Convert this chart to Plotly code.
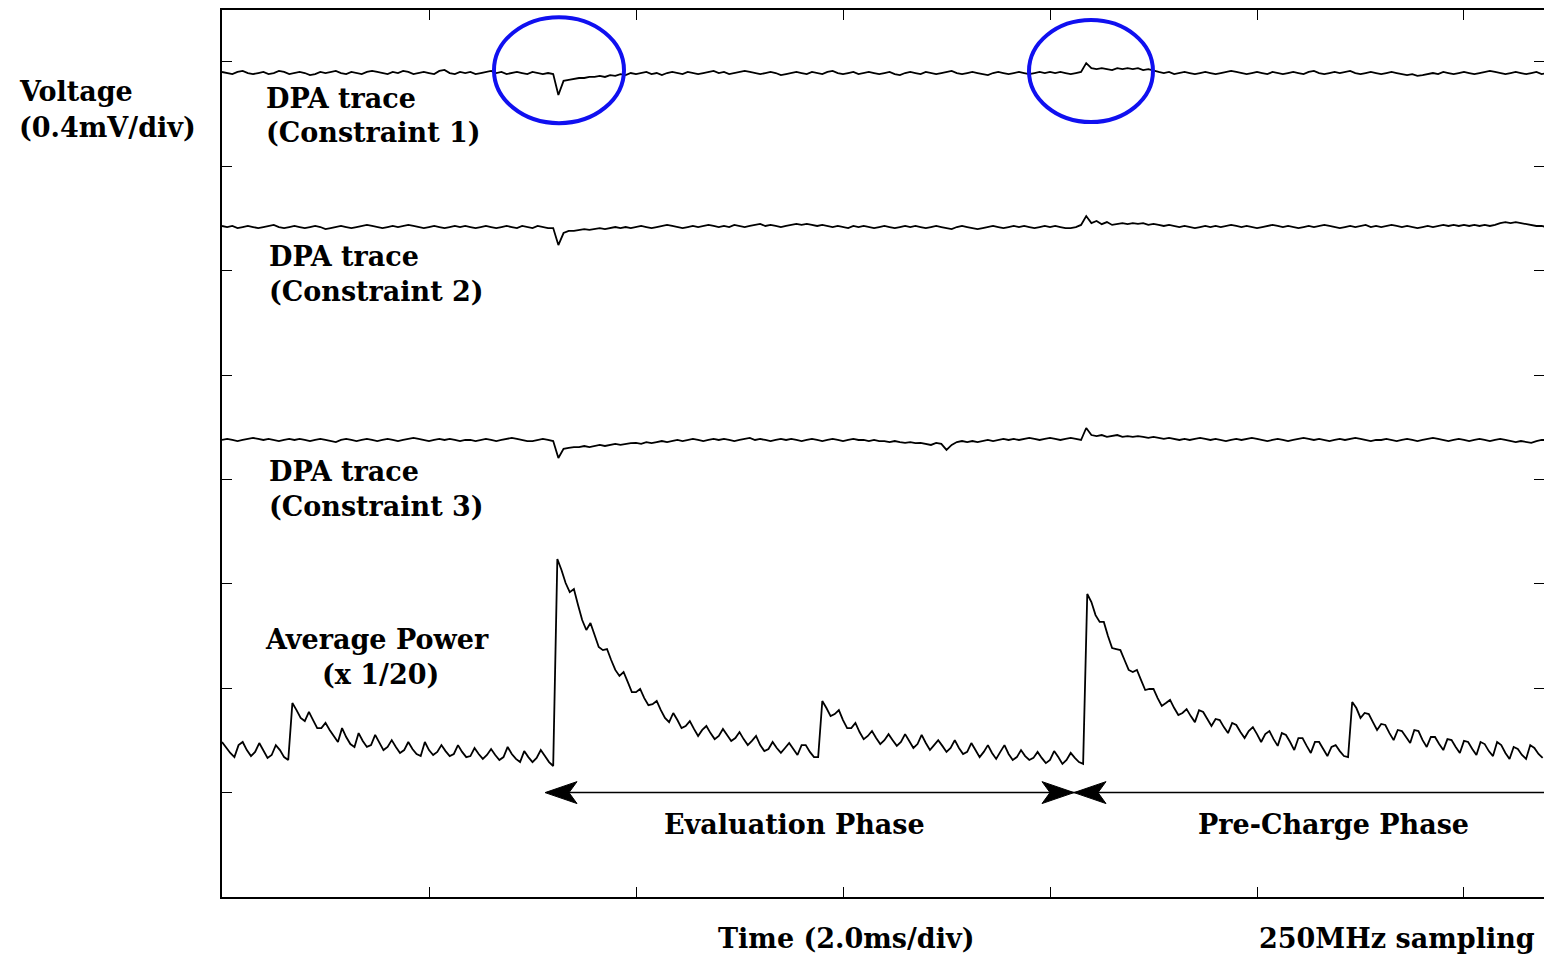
import numpy as np
import plotly.graph_objects as go

# ---------------- data ----------------
# time bases: DPA traces sampled every 0.05 ms, average power every 0.04 ms
DPA_STEP_MS = 0.05
PWR_STEP_MS = 0.04

# DC level of each DPA trace on screen (uV) and its deviation (uV)
dpa1_offset_uv = 3157
dpa2_offset_uv = 2567
dpa3_offset_uv = 1751

dpa1_uv = [
    4, 0, -4, 4, 8, 0, -4, 0, 4, -4, 0, 8, 4, -4, 0, 4,
    0, -8, -4, 4, 0, 4, 8, 0, -4, 4, 0, -4, 4, 8, 4, 0,
    -4, 4, 0, 8, 4, -4, 0, 4, 0, -4, 8, 12, 0, -4, 4, 0,
    4, -4, 0, 4, 8, 0, 4, -4, 0, 4, 0, -4, 4, 0, -4, 0,
    -4, -84, -30, -26, -22, -19, -19, -15, -15, -11, -15, -8, -11, -4, -8, 0,
    -4, 0, 4, -4, 0, -8, 0, 4, 0, -4, 4, 0, -4, 0, 4, 8,
    0, 4, -4, 0, 4, 8, 4, 0, -4, 0, 4, 0, -8, -4, 0, 4,
    0, -4, 4, 0, -4, 4, 8, 0, -4, 0, 4, -4, 0, 4, 0, -4,
    0, 4, -4, -8, 0, 4, 0, -4, 4, 0, -4, 0, 4, 8, 0, -4,
    0, 4, 0, -4, -8, 0, 4, 0, -4, 0, 4, 0, -4, 0, 4, 0,
    4, 0, 4, 0, -4, 0, 4, 38, 19, 15, 19, 15, 11, 19, 15, 19,
    15, 19, 11, 15, 8, 4, 0, 4, -4, 0, 4, 0, -4, 0, 4, 0,
    -4, 0, 4, 8, 4, 0, -4, 0, 4, 0, -4, 4, 0, -4, 0, 4,
    0, -4, 4, 8, 0, -4, 0, 4, 0, 4, 8, 0, -4, 0, 4, 0,
    -4, 0, 4, 0, -4, -8, -4, -11, -8, -4, 0, -4, 4, 0, -4, 0,
    4, 0, -4, 0, 4, 8, 4, 0, -4, 0, 4, 0, -4, 0, 4, -4,
    0,
]

dpa2_uv = [
    4, 0, 4, -4, 0, 4, 0, -4, 0, 4, 8, 0, -4, 0, 4, 0,
    -4, 0, 4, 0, -8, -4, 0, 4, 0, -4, 0, 4, 8, 4, 0, -4,
    0, 4, 0, 4, 8, 4, 0, -4, 0, 4, 0, -4, 0, 4, 0, 4,
    0, -4, 0, 4, 0, -4, 0, 4, 0, -4, 4, 0, -4, 4, 0, -4,
    -4, -69, -23, -15, -15, -11, -8, -11, -8, -4, -8, -4, 0, -4, 0, -4,
    0, 4, 0, -4, 0, 4, 8, 4, 0, -4, 0, 4, 0, 4, 8, 4,
    0, 4, 0, 8, 4, 0, 4, 8, 12, 4, 8, 4, 0, 4, 8, 12,
    8, 12, 8, 4, 8, 4, 0, 4, 0, -4, 4, 0, 4, 0, -4, 0,
    4, 0, -4, 0, 4, 0, 4, 0, -4, 0, 4, 0, -4, -8, 0, 4,
    0, -4, -8, -4, 0, 4, 0, -4, 0, 4, 0, 4, 0, -4, 0, 4,
    0, 4, 0, -4, -4, 0, 8, 42, 15, 23, 11, 19, 8, 12, 15, 11,
    15, 12, 15, 8, 12, 8, 4, 8, 4, 0, 4, 0, -4, 0, 4, 0,
    4, 0, 4, 8, 4, 0, 4, 0, -4, 0, 4, 8, 4, 0, 4, 0,
    -4, 0, 4, 0, 4, 8, 4, 0, -4, 0, 4, 0, 4, 8, 0, 4,
    0, 4, 8, 4, 0, 4, 0, -4, 0, 4, 0, 4, 8, 4, 8, 4,
    8, 4, 8, 4, 8, 4, 8, 15, 19, 15, 19, 15, 12, 8, 4, 4,
    0,
]

dpa3_uv = [
    0, 4, 0, -4, 0, 4, 8, 4, 0, 4, 0, -4, 0, 4, 0, 4,
    0, -4, 0, 4, 0, -4, -8, 0, 4, 0, -4, 0, 4, 0, -4, 0,
    4, 0, -4, 0, 4, 8, 4, 0, -4, 0, 4, 0, 4, 0, -4, 0,
    0, -4, 0, 4, 0, -4, 0, 4, 8, 4, 0, -4, -4, 0, 4, 0,
    -4, -69, -34, -30, -27, -27, -23, -27, -23, -19, -23, -19, -15, -19, -15, -12,
    -11, -15, -8, -12, -8, -4, -8, -4, 0, -4, 0, 4, 0, -4, 0, 4,
    0, 4, 0, -4, 0, 4, 8, 0, 4, 0, -4, 0, 4, 0, 4, 0,
    -4, 0, 4, 0, -4, 0, 4, 0, -4, 0, 4, 0, 0, -4, 0, -4,
    -4, -8, -4, -8, -11, -8, -12, -11, -15, -19, -11, -15, -38, -19, -8, -4,
    -8, -4, -8, -4, 0, -4, 0, 4, 0, 4, 0, 4, 8, 4, 0, 4,
    8, 4, 0, 4, 8, 4, 0, 46, 19, 15, 19, 12, 15, 19, 12, 15,
    12, 15, 12, 8, 12, 8, 4, 8, 4, 0, 4, 0, 4, 8, 4, 0,
    4, 0, -4, 0, 4, 0, 4, 8, 4, 0, -4, 0, 4, 0, -4, 0,
    4, 8, 4, 0, 4, 0, -4, 0, 4, 0, 4, 8, 4, 0, -4, 0,
    0, 4, 0, -4, 0, 4, 0, -4, 0, 4, 8, 4, 0, -4, 0, 4,
    0, -4, 0, 4, 0, -4, 0, 4, 0, -4, -8, -4, -8, -11, -4, 0,
    0,
]

# average power (x 1/20), shown on the voltage scale (uV)
power_uv = [
    594, 571, 552, 536, 582, 594, 563, 540, 556, 590, 559, 533, 544, 582, 563, 536,
    525, 743, 716, 686, 674, 709, 678, 647, 647, 667, 640, 617, 594, 647, 613, 586,
    575, 628, 598, 575, 582, 621, 590, 563, 575, 601, 575, 552, 563, 594, 567, 548,
    540, 594, 563, 544, 556, 582, 559, 540, 548, 582, 556, 536, 540, 571, 548, 529,
    544, 567, 544, 525, 536, 575, 548, 529, 517, 559, 536, 517, 533, 563, 540, 517,
    502, 1295, 1253, 1203, 1168, 1180, 1119, 1061, 1023, 1050, 1004, 958, 946, 950, 908, 870,
    847, 862, 824, 785, 785, 797, 762, 735, 739, 751, 716, 686, 670, 705, 678, 647,
    655, 674, 644, 617, 640, 655, 628, 605, 617, 644, 621, 598, 609, 632, 605, 582,
    598, 617, 582, 559, 567, 594, 571, 552, 571, 590, 567, 544, 582, 582, 556, 536,
    536, 751, 724, 693, 701, 716, 678, 647, 647, 667, 632, 605, 617, 636, 609, 586,
    601, 624, 601, 579, 594, 624, 598, 571, 586, 621, 590, 563, 582, 601, 579, 556,
    571, 601, 571, 548, 556, 590, 563, 536, 556, 582, 552, 529, 556, 582, 548, 525,
    536, 563, 540, 525, 533, 556, 533, 513, 525, 559, 536, 510, 525, 552, 533, 517,
    510, 1161, 1130, 1080, 1054, 1054, 1000, 954, 950, 946, 908, 870, 862, 870, 831, 793,
    797, 797, 762, 732, 743, 755, 724, 697, 705, 720, 693, 670, 716, 709, 682, 655,
    682, 678, 651, 628, 667, 659, 632, 609, 636, 651, 624, 594, 624, 636, 605, 579,
    628, 621, 594, 563, 609, 609, 579, 552, 594, 594, 567, 540, 575, 582, 559, 540,
    536, 747, 724, 686, 705, 701, 670, 640, 663, 659, 628, 601, 640, 636, 613, 590,
    640, 636, 601, 575, 613, 613, 586, 563, 605, 601, 575, 552, 598, 594, 567, 544,
    594, 586, 559, 540, 594, 582, 552, 529, 575, 567, 544, 529, 582, 571, 548, 533,
]

# phase boundaries (ms) and arrow level (mV)
eval_start_ms = 3.121
phase_switch_ms = 8.232
arrow_level_mv = 0.4

# ---------------- figure ----------------
X_MAX = 12.773      # ms shown (2.0 ms/div)
Y_MAX = 3.3985      # mV shown (0.4 mV/div)

t_dpa = np.arange(len(dpa1_uv)) * DPA_STEP_MS
t_pwr = np.arange(len(power_uv)) * PWR_STEP_MS

LINE = dict(color="black", width=1.8)
fig = go.Figure()
for off, dev in [(dpa1_offset_uv, dpa1_uv), (dpa2_offset_uv, dpa2_uv), (dpa3_offset_uv, dpa3_uv)]:
    fig.add_trace(go.Scatter(x=t_dpa, y=(off + np.array(dev)) / 1000.0, mode="lines",
                             line=LINE, hoverinfo="skip"))
fig.add_trace(go.Scatter(x=t_pwr, y=np.array(power_uv) / 1000.0, mode="lines",
                         line=LINE, hoverinfo="skip"))
# carrier for right-hand ticks
fig.add_trace(go.Scatter(x=[0], y=[0], yaxis="y2", mode="markers",
                         marker=dict(opacity=0), hoverinfo="skip"))

L, T, B = 222, 10, 58
W, H = 1544, 955
PW, PH = W - L, H - T - B


def px(xp):
    return (xp - L) / PW


def py(yp):
    return (H - B - yp) / PH


FONT = dict(family="DejaVu Serif", size=27, color="black")
anns = []


def txt(s, x, y, anchor="left"):
    anns.append(dict(text="<b>%s</b>" % s, x=px(x), y=py(y), xref="paper", yref="paper",
                     xanchor=anchor, yanchor="middle", showarrow=False, font=FONT))


txt("Voltage", 17, 91)
txt("(0.4mV/div)", 17, 128)
txt("DPA trace", 264, 98)
txt("(Constraint 1)", 264, 133)
txt("DPA trace", 267, 256)
txt("(Constraint 2)", 267, 291)
txt("DPA trace", 267, 471)
txt("(Constraint 3)", 267, 506)
txt("Average Power", 377, 639, "center")
txt("(x 1/20)", 380, 674, "center")
txt("Evaluation Phase", 794, 824, "center")
txt("Pre-Charge Phase", 1333, 824, "center")
txt("Time (2.0ms/div)", 846, 939, "center")
txt("250MHz sampling", 1397, 939, "center")

shapes = []
BLUE = "#1010f0"
shapes.append(dict(type="circle", xref="x", yref="y", x0=2.628, x1=3.884, y0=2.965, y1=3.371,
                   line=dict(color=BLUE, width=4)))
shapes.append(dict(type="circle", xref="x", yref="y", x0=7.797, x1=8.995, y0=2.969, y1=3.360,
                   line=dict(color=BLUE, width=4)))

# arrow shafts
shapes.append(dict(type="line", xref="x", yref="y", x0=eval_start_ms + 0.1, x1=X_MAX,
                   y0=arrow_level_mv, y1=arrow_level_mv, line=dict(color="black", width=1.5)))

HEAD_L, HEAD_N, HEAD_H = 0.309, 0.232, 0.042


def head(xt, direction):
    d = direction  # +1 points right, -1 points left
    y = arrow_level_mv
    return dict(type="path", xref="x", yref="y", fillcolor="black", line=dict(color="black", width=1),
                path="M%f,%f L%f,%f L%f,%f L%f,%f Z" % (
                    xt, y, xt - d * HEAD_L, y + HEAD_H, xt - d * HEAD_N, y, xt - d * HEAD_L, y - HEAD_H))


shapes.append(head(eval_start_ms, -1))
shapes.append(head(phase_switch_ms, +1))
shapes.append(head(phase_switch_ms, -1))

AX = dict(showgrid=False, zeroline=False, showticklabels=False, ticks="inside", ticklen=10,
          tickwidth=1, tickcolor="black")
fig.update_layout(
    width=W, height=H, margin=dict(l=L, r=0, t=T, b=B),
    paper_bgcolor="white", plot_bgcolor="white", showlegend=False,
    xaxis=dict(range=[0, X_MAX], tick0=0, dtick=2, showline=True, linecolor="black",
               linewidth=2, mirror="ticks", **AX),
    yaxis=dict(range=[0, Y_MAX], tick0=0, dtick=0.4, showline=True, linecolor="black",
               linewidth=2, mirror=False, **AX),
    yaxis2=dict(range=[0, Y_MAX], tick0=0, dtick=0.4, overlaying="y", side="right",
                showline=False, anchor="x", **AX),
    annotations=anns, shapes=shapes,
)
fig.write_html(
    "out.html",
    config={"displayModeBar": False, "staticPlot": True},
    post_script="document.body.style.margin='0';document.body.style.padding='0';"
                "document.body.style.overflow='hidden';"
                "document.documentElement.style.overflow='hidden';",
)
